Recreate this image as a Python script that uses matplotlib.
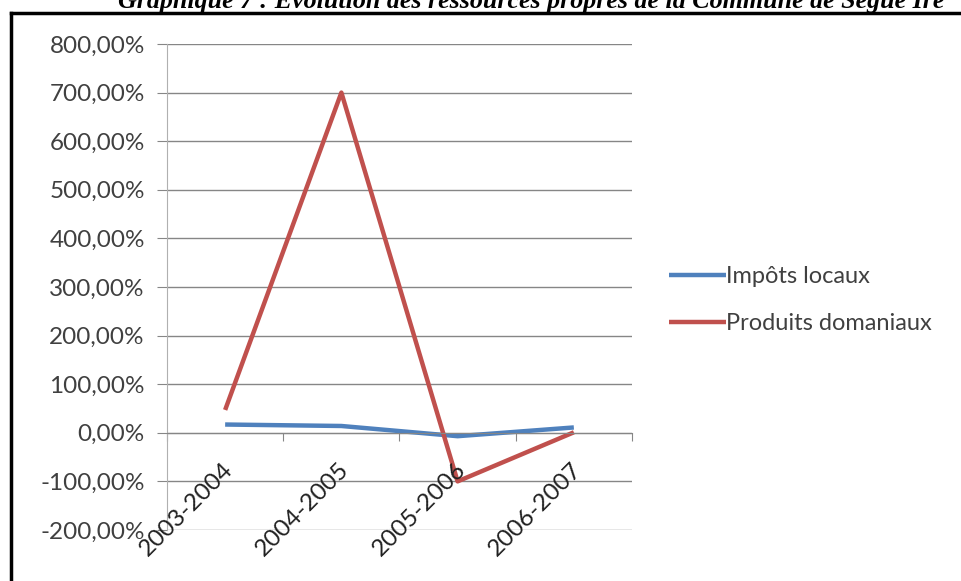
import numpy as np
import matplotlib.pyplot as plt
from matplotlib.lines import Line2D

# data (growth rates, %)
periods = ["2003-2004", "2004-2005", "2005-2006", "2006-2007"]
impots_locaux = [17.0, 14.0, -7.0, 11.0]
produits_domaniaux = [47.0, 700.0, -100.0, 1.0]
yticks = [-200, -100, 0, 100, 200, 300, 400, 500, 600, 700, 800]

title = "Graphique 7 : Evolution des ressources propres de la Commune de Ségué Ire"

blue = "#4F81BD"
red = "#C0504D"
grid_col = "#868686"

plt.rcParams['font.family'] = ['Lato', 'DejaVu Sans']

fig = plt.figure(figsize=(9.61, 5.81), dpi=100)
ax = fig.add_axes([0.1738, 0.0878, 0.4838, 0.8365])

x = np.arange(len(periods))
ax.plot(x, impots_locaux, color=blue, lw=3.2, label="Impôts locaux", solid_capstyle='butt')
ax.plot(x, produits_domaniaux, color=red, lw=3.2, label="Produits domaniaux", solid_capstyle='butt')

ax.set_xlim(-0.5, len(periods) - 0.5)
ax.set_ylim(-200, 800)
ax.set_yticks(yticks)
ax.set_yticklabels([f"{v},00%" for v in yticks], fontsize=17.5, color="#404040")
ax.yaxis.grid(True, color=grid_col, lw=1)
ax.tick_params(axis='y', length=7, color=grid_col, pad=9)

for s in ['top', 'right']:
    ax.spines[s].set_visible(False)
ax.spines['left'].set_color("#b0b0b0")
ax.spines['bottom'].set_position(('data', 0))
ax.spines['bottom'].set_color(grid_col)

# horizontal axis crosses at zero, ticks between categories
ax.set_xticks(np.arange(-0.5, len(periods)), minor=False)
ax.set_xticklabels([])
ax.tick_params(axis='x', length=6, color=grid_col, direction='out')
for i, p in enumerate(periods):
    ax.annotate(p, xy=(i, 0), xytext=(-2, -19), textcoords='offset points',
                rotation=45, rotation_mode='anchor', ha='right', va='top',
                fontsize=17.5, color="#202020", annotation_clip=False)

leg = fig.legend(loc='upper left', bbox_to_anchor=(0.6745, 0.578), frameon=False,
                 fontsize=17, handlelength=2.4, handletextpad=0.0,
                 labelspacing=1.1, labelcolor="#404040")

# frame and cut-off caption above it
fig.add_artist(Line2D([0.0115, 1.0], [0.978, 0.978], color='black', lw=2.5,
                      transform=fig.transFigure))
fig.add_artist(Line2D([0.0115, 0.0115], [0.0, 0.978], color='black', lw=2.5,
                      transform=fig.transFigure))
fig.text(0.553, 0.987, title, ha='center', va='baseline', fontsize=18.7,
         family='Liberation Serif', weight='bold', style='italic')

fig.savefig("out.png", dpi=100, facecolor='white')
